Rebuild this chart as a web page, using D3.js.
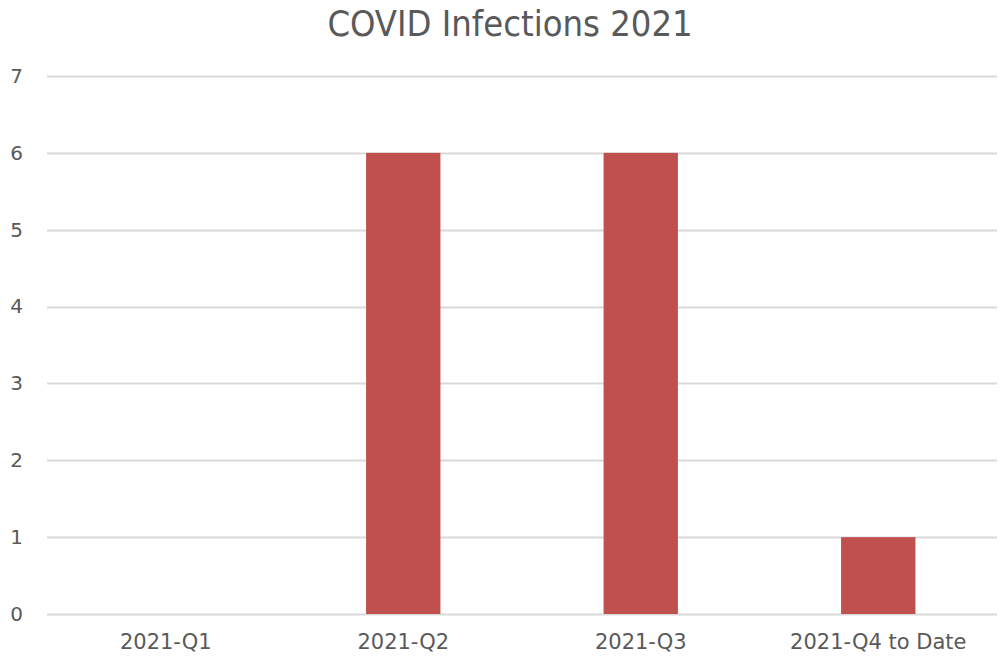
<!DOCTYPE html>
<html>
<head>
<meta charset="utf-8">
<script src="https://cdn.jsdelivr.net/npm/d3@7"></script>
<style>
  html, body { margin: 0; padding: 0; background: #fff; }
  svg { display: block; }
</style>
</head>
<body>
<svg id="chart" width="1000" height="660"></svg>
<script>
// Quarterly infection counts
const categories = ["2021-Q1", "2021-Q2", "2021-Q3", "2021-Q4 to Date"];
const infections = [0, 6, 6, 1];
const yTicks = [0, 1, 2, 3, 4, 5, 6, 7];
const title = "COVID Infections 2021";

const W = 1000, H = 660;
const margin = { top: 76, right: 3, bottom: 46, left: 47 };
const svg = d3.select("#chart");
const labelFont = "'DejaVu Sans', Verdana, sans-serif";

const x = d3.scaleBand()
  .domain(categories)
  .range([margin.left, W - margin.right])
  .paddingInner(0.687)
  .paddingOuter(0.3435);

const y = d3.scaleLinear()
  .domain([0, 7])
  .range([H - margin.bottom, margin.top]);

// Horizontal gridlines
svg.append("g")
  .selectAll("line")
  .data(yTicks)
  .join("line")
  .attr("x1", margin.left)
  .attr("x2", W - margin.right)
  .attr("y1", d => Math.round(y(d)) + 0.5)
  .attr("y2", d => Math.round(y(d)) + 0.5)
  .attr("stroke", "#d9d9d9")
  .attr("stroke-width", 2);

// Bars
svg.append("g")
  .selectAll("rect")
  .data(categories.map((c, i) => ({ c, v: infections[i] })))
  .join("rect")
  .attr("x", d => x(d.c))
  .attr("width", x.bandwidth())
  .attr("y", d => y(d.v))
  .attr("height", d => y(0) - y(d.v))
  .attr("fill", "#c0504d");

// Y axis labels
const yAxis = d3.axisLeft(y).tickValues(yTicks).tickSize(0).tickPadding(0)
  .tickFormat(d3.format("d"));
svg.append("g")
  .attr("transform", `translate(${margin.left - 24},0)`)
  .call(yAxis)
  .call(g => g.select(".domain").remove())
  .selectAll("text")
  .attr("fill", "#595959")
  .attr("font-family", labelFont)
  .attr("font-size", 20);

// X axis labels
const xAxis = d3.axisBottom(x).tickSize(0).tickPadding(0);
svg.append("g")
  .attr("transform", `translate(0,${H - margin.bottom + 20})`)
  .call(xAxis)
  .call(g => g.select(".domain").remove())
  .selectAll("text")
  .attr("fill", "#595959")
  .attr("font-family", labelFont)
  .attr("font-size", 21);

// Title
svg.append("text")
  .attr("x", 510)
  .attr("y", 36)
  .attr("text-anchor", "middle")
  .attr("fill", "#595959")
  .attr("font-family", "'Liberation Sans Narrow', 'DejaVu Sans Condensed', 'Liberation Sans', sans-serif")
  .attr("font-size", 36)
  .text(title);
</script>
</body>
</html>
